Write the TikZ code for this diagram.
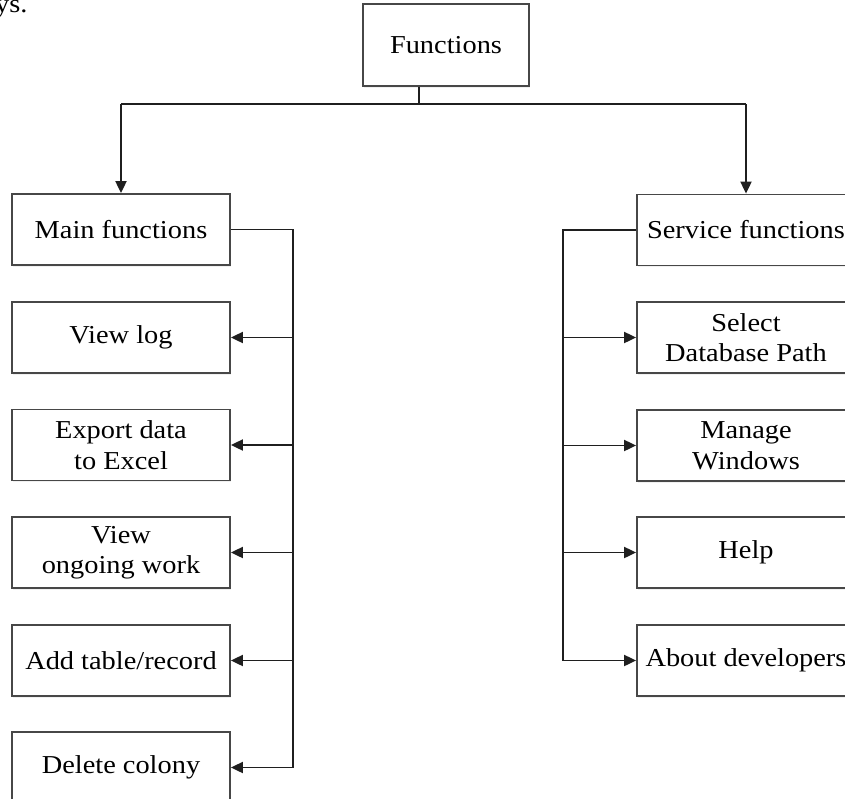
\documentclass[tikz,border=0pt]{standalone}
\usepackage{fontspec}
\setmainfont[FakeStretch=1.1]{Liberation Serif}
\usetikzlibrary{arrows.meta,shadows}
\begin{document}
\begin{tikzpicture}[x=1pt,y=-1pt,
  txt/.style={font=\fontsize{25.8}{30.5}\selectfont},
  box/.style={txt, draw=black!72, line width=1.8pt, fill=white,
    minimum width=218pt, minimum height=71pt, align=center, inner sep=0pt,
    drop shadow={opacity=0.12, shadow xshift=1.2pt, shadow yshift=-1.5pt}},
  link/.style={line width=1.9pt, draw=black!88},
  arr/.style={link, -{Triangle[length=12pt,width=11pt]}}]
\useasboundingbox (0,0) rectangle (845,798);
\clip (0,0) rectangle (845,798);

% tail of the preceding line of text
\node[txt, anchor=base west, inner sep=0pt] (frag) at (-5,12) {ys.};

% root
\node[box, minimum width=166pt, minimum height=82pt] (fun) at (446,45) {\raisebox{-3pt}{Functions}};

% left column
\node[box] (main)  at (121,229.5) {Main functions};
\node[box] (log)   at (121,337.5) {View log};
\node[box] (exp)   at (121,445)   {Export data\\to Excel};
\node[box] (ongo)  at (121,552.5) {View\\ongoing work};
\node[box] (add)   at (121,660.5) {Add table/record};
\node[box] (del)   at (121,767.5) {Delete colony};

% right column
\node[box] (serv)  at (746,230)   {Service functions};
\node[box] (dbp)   at (746,337.5) {Select\\Database Path};
\node[box] (win)   at (746,445.5) {Manage\\Windows};
\node[box] (help)  at (746,552.5) {Help};
\node[box] (about) at (746,660.5) {About developers};

% junctions and buses
\coordinate (j)  at (419,104);
\coordinate (lb) at (293,229.5);
\coordinate (rb) at (563,230);

% root to both groups
\draw[link] (fun.south -| j) -- (j);
\draw[link] (main.north |- j) -- (serv.north |- j);
\draw[arr] (main.north |- j) -- (main.north);
\draw[arr] (serv.north |- j) -- (serv.north);

% left bus
\draw[arr] (main.east) -- (lb) |- (del.east);
\draw[arr] (lb |- log.east)  -- (log.east);
\draw[arr] (lb |- exp.east)  -- (exp.east);
\draw[arr] (lb |- ongo.east) -- (ongo.east);
\draw[arr] (lb |- add.east)  -- (add.east);

% right bus
\draw[arr] (serv.west) -- (rb) |- (about.west);
\draw[arr] (rb |- dbp.west)  -- (dbp.west);
\draw[arr] (rb |- win.west)  -- (win.west);
\draw[arr] (rb |- help.west) -- (help.west);
\end{tikzpicture}
\end{document}
